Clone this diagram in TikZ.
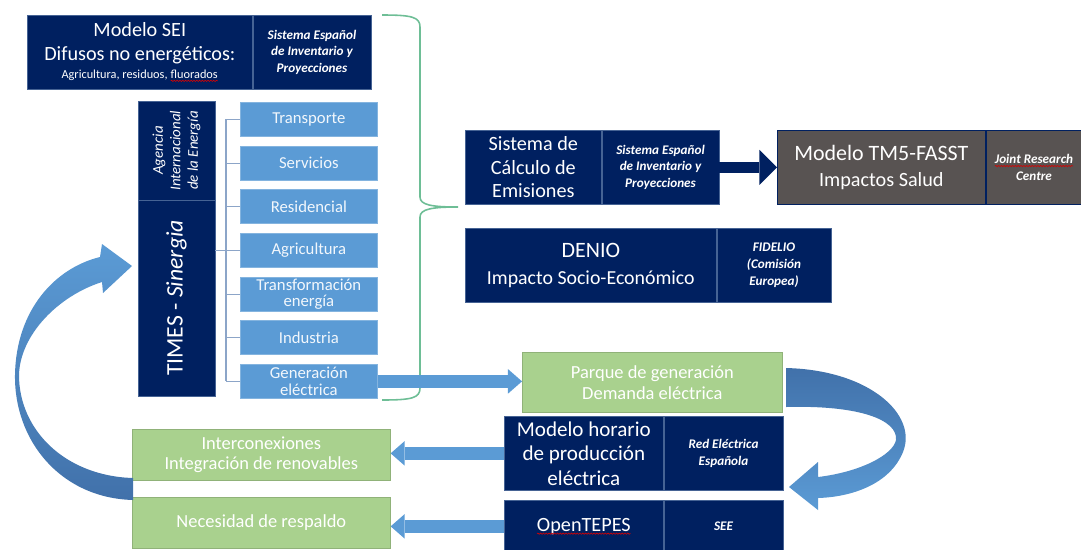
\documentclass[tikz,border=0pt]{standalone}
\usepackage{fontspec}
\setmainfont{Carlito}
\usepackage{tikz}
\usetikzlibrary{arrows.meta,positioning,decorations.pathmorphing}

\definecolor{seinavy}{RGB}{0,32,96}
\definecolor{seigray}{RGB}{88,83,82}
\definecolor{sectorblue}{RGB}{91,155,213}
\definecolor{seigreen}{RGB}{169,209,142}
\definecolor{bracegreen}{RGB}{110,190,150}
\definecolor{treeline}{RGB}{140,165,200}
\definecolor{arrowdark}{RGB}{65,113,170}

% red spell-check wave under a word
\newcommand{\spellmark}[1]{\tikz[baseline=(sp.base)]{\node[inner sep=0pt,outer sep=0pt,draw=none,fill=none,minimum width=0pt,minimum height=0pt,anchor=base] (sp) {#1};
  \draw[red!85!black, line width=0.35pt, decorate, decoration={snake,amplitude=0.35pt,segment length=1.6pt}] ([yshift=-1.4pt]sp.base west) -- ([yshift=-1.4pt]sp.base east);}}

\tikzset{
  navybox/.style={draw=treeline!50!seinavy, line width=0.4pt, fill=seinavy, text=white, inner sep=1pt,
    minimum height=1.48cm, align=center, anchor=north west, font=\fontsize{11.5}{13.3}\selectfont},
  graybox/.style={navybox, fill=seigray, draw=seinavy},
  refnote/.style={font=\fontsize{7.5}{9.5}\selectfont\bfseries\itshape},
  sectorbox/.style={draw=sectorblue!75!white, line width=0.4pt, fill=sectorblue, text=white!92!sectorblue,
    minimum width=2.74cm, minimum height=0.68cm, text width=2.7cm, align=center, inner sep=0pt,
    anchor=north west, font=\fontsize{9.5}{9.5}\selectfont},
  greenbox/.style={draw=seigreen!85!black, line width=0.4pt, fill=seigreen, text=white, align=center,
    inner sep=1pt, anchor=north west, font=\fontsize{10.5}{11.8}\selectfont},
  tree/.style={draw=treeline, line width=0.6pt},
  brace/.style={draw=bracegreen, line width=0.9pt},
  flowarrow/.style={draw=sectorblue, line width=7pt, -{Triangle[length=8pt,width=14pt,line width=0pt]}},
  darkarrow/.style={draw=seinavy, line width=6.5pt, -{Triangle[length=10pt,width=20pt,line width=0pt]}},
}

\begin{document}
\begin{tikzpicture}[x=0.02cm,y=-0.02cm]
\useasboundingbox (0,0) rectangle (1081,549);

% Inventario: difusos no energeticos
\node[navybox, minimum width=4.5cm] (sei) at (27,15)
  {Modelo SEI\\Difusos no energéticos:\\[-3pt]{\fontsize{7}{8}\selectfont Agricultura, residuos, \spellmark{fluorados}}};
\node[navybox, refnote, minimum width=2.36cm, right=0pt of sei] (seiref) {Sistema Español\\de Inventario y\\Proyecciones};

% TIMES - Sinergia
\node[navybox, rotate=90, anchor=center, minimum width=1.98cm, minimum height=1.54cm,
  font=\fontsize{8.5}{10}\selectfont\itshape] (iea) at (176.5,150.5) {Agencia\\Internacional\\de la Energía};
\node[navybox, rotate=90, anchor=center, minimum width=3.92cm, minimum height=1.54cm,
  font=\fontsize{13.5}{15}\selectfont] (times) at (176.5,298) {TIMES - \textit{Sinergia}};

% sectores
\foreach \n/\t [count=\i from 0] in {transp/Transporte, serv/Servicios, resid/Residencial, agri/Agricultura,
    transf/Transformación\\energía, indus/Industria, gen/Generación\\eléctrica}
  \node[sectorbox] (\n) at (240,102+43.67*\i) {\t};

\draw[tree] ([xshift=-0.28cm]transp.west) -- ([xshift=-0.28cm]gen.west);
\foreach \n in {transp,serv,resid,agri,transf,indus,gen}
  \draw[tree] (\n.west) -- ++(-0.28cm,0);
\draw[tree] (times.south |- agri.west) -- ++(0.22cm,0);

% llave
\draw[brace] (382,15) .. controls (412,15) and (420,17) .. (420,27) -- (420,197)
  .. controls (420,205) and (432,207) .. (458,207) .. controls (432,207) and (420,209) .. (420,217)
  -- (420,388) .. controls (420,398) and (412,400) .. (382,400);

% emisiones, salud, socioeconomico
\node[navybox, minimum width=2.72cm] (calc) at (465,130) {Sistema de\\Cálculo de\\Emisiones};
\node[navybox, refnote, minimum width=2.34cm, right=0pt of calc] (calcref) {Sistema Español\\de Inventario y\\Proyecciones};

\node[graybox, minimum width=4.16cm, font=\fontsize{12.5}{15}\selectfont] (tm5) at (777,130)
  {Modelo TM5-FASST\\{\fontsize{11.5}{13}\selectfont Impactos Salud}};
\node[graybox, refnote, minimum width=1.92cm, right=0pt of tm5] (tm5ref) {\spellmark{Joint Research}\\Centre};
\draw[darkarrow] (calcref.east) -- (tm5.west);

\node[navybox, minimum width=5.02cm, font=\fontsize{12.5}{15}\selectfont] (denio) at (465,228)
  {DENIO\\{\fontsize{11.3}{13}\selectfont Impacto Socio-Económico}};
\node[navybox, refnote, minimum width=2.28cm, right=0pt of denio] (denioref) {FIDELIO\\(Comisión\\Europea)};

% sistema electrico
\node[greenbox, minimum width=5.2cm, minimum height=1.2cm] (parque) at (522,352) {Parque de generación\\Demanda eléctrica};
\node[navybox, minimum width=3.18cm, font=\fontsize{12}{13.9}\selectfont] (horario) at (504,416) {Modelo horario\\de producción\\eléctrica};
\node[navybox, refnote, minimum width=2.38cm, right=0pt of horario] (horarioref) {Red Eléctrica\\Española};
\node[navybox, minimum width=3.18cm, minimum height=1.04cm] (tepes) at (504,500) {\spellmark{OpenTEPES}};
\node[navybox, refnote, minimum width=2.38cm, minimum height=1.04cm, right=0pt of tepes] (tepesref) {SEE};

\node[greenbox, minimum width=5.16cm, minimum height=1.02cm] (inter) at (132,429) {Interconexiones\\Integración de renovables};
\node[greenbox, minimum width=5.16cm, minimum height=1.02cm] (resp) at (132,497) {Necesidad de respaldo};

\draw[flowarrow] (gen.east) -- (gen.east -| parque.west);
\draw[flowarrow] (horario.west) -- (horario.west -| inter.east);
\draw[flowarrow] (tepes.west) -- (tepes.west -| resp.east);

% flechas curvas
\shade[top color=arrowdark, bottom color=sectorblue]
  (786,368) .. controls (870,370) and (918,415) .. (903,452) .. controls (890,484) and (852,497) .. (818,498)
  -- (818,510) -- (789,487) -- (818,462) -- (818,477)
  .. controls (860,472) and (893,455) .. (896,440) .. controls (898,420) and (860,405) .. (786,407) -- cycle;
\shade[top color=sectorblue, bottom color=arrowdark]
  (133,500) .. controls (60,498) and (14,440) .. (15,375) .. controls (16,310) and (55,268) .. (100,257)
  -- (102,244) -- (132,266) -- (103,293) -- (102,282)
  .. controls (58,296) and (20,335) .. (19,375) .. controls (19,430) and (65,476) .. (133,478) -- cycle;
\end{tikzpicture}
\end{document}
